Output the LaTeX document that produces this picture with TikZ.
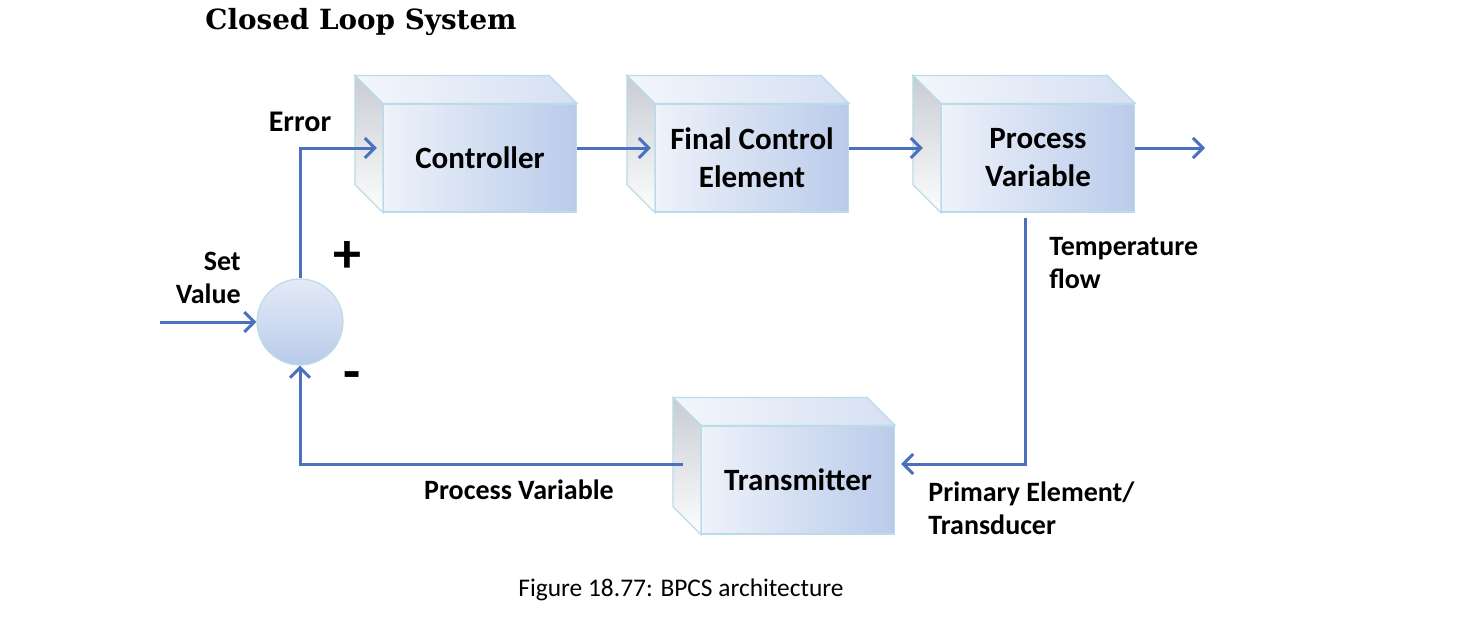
\documentclass[tikz,border=0pt]{standalone}
\usepackage{fontspec}
\setmainfont{Carlito}
\newfontfamily\titlefont{DejaVu Serif}
\usetikzlibrary{arrows.meta}
\definecolor{flowBlue}{RGB}{74, 112, 190}
\definecolor{edgeCyan}{RGB}{185, 220, 232}
\definecolor{faceLight}{RGB}{238, 242, 250}
\definecolor{faceDark}{RGB}{186, 203, 234}
\definecolor{sideGrey}{RGB}{200, 204, 211}

\begin{document}
\begin{tikzpicture} [
        x=0.5pt, y=-0.5pt,
        block/.style={draw=edgeCyan, line width=0.6pt, left color=faceLight, right color=faceDark, minimum width=96.5pt, minimum height=54pt, inner sep=0pt, align=center, font=\fontsize{15.5}{19}\selectfont\bfseries},
        junction/.style={circle, draw=edgeCyan, line width=0.6pt, top color=faceLight!80!faceDark, bottom color=faceDark, minimum size=43pt, inner sep=0pt},
        flow/.style={draw=flowBlue, line width=1.5pt, -{Straight Barb[length=5pt, width=10pt, line width=1.5pt]}},
        lbl/.style={inner sep=0pt, font=\fontsize{14}{16.5}\selectfont\bfseries},
        sign/.style={font=\fontsize{28}{28}\selectfont\bfseries}
    ]
        \useasboundingbox (0, 0) rectangle (1459, 616);

        \node [block] (ctrl) at (480, 158) {Controller};
        \node [block] (fce)  at (752, 158) {Final Control\\Element};
        \node [block] (pv)   at (1038, 158) {Process\\Variable};
        \node [block] (tx)   at (798, 480) {Transmitter};
        \node [junction] (sum) at (300, 322) {};

        % top and left faces of the boxes
        \foreach \b in {ctrl, fce, pv, tx} {
            \draw[edgeCyan, line width=0.6pt, left color=faceLight!70!white, right color=faceDark!60!white]
                (\b.north west) -- ([shift={(-14pt, 14pt)}]\b.north west)
                -- ([shift={(-14pt, 14pt)}]\b.north east) -- (\b.north east) -- cycle;
            \draw[edgeCyan, line width=0.6pt, top color=sideGrey, bottom color=white!96!sideGrey]
                (\b.north west) -- ([shift={(-14pt, 14pt)}]\b.north west)
                -- ([shift={(-14pt, 14pt)}]\b.south west) -- (\b.south west) -- cycle;
        }

        \coordinate (in)  at (160, 322);
        \coordinate (out) at (1205, 148);

        \draw[flow] (in) -- (sum.west);
        \draw[flow] (sum.north) |- ([xshift=-3pt, yshift=5pt]ctrl.west);
        \draw[flow] ([yshift=5pt]ctrl.east) -- ([xshift=-2pt, yshift=5pt]fce.west);
        \draw[flow] ([yshift=5pt]fce.east) -- ([xshift=-9pt, yshift=5pt]pv.west);
        \draw[flow] ([yshift=5pt]pv.east) -- (out);
        \draw[flow] ([xshift=-6.5pt, yshift=-2.5pt]pv.south) |- ([xshift=3pt, yshift=8pt]tx.east);
        \draw[flow] ([xshift=-9pt, yshift=8pt]tx.west) -| (sum.south);

        \node [lbl, font=\fontsize{15}{18}\selectfont\bfseries] (error) at (300, 122) {Error};
        \node [lbl, align=right, anchor=east] (setval) at (241, 278) {Set\\Value};
        \node [sign] (plus) at (347, 257) {+};
        \node [sign] (minus) at (352, 381) {-};
        \node [lbl, align=left, anchor=west] (temp) at (1049, 263) {Temperature\\flow};
        \node [lbl, align=left, anchor=west] (prim) at (928, 508) {Primary Element/\\Transducer};
        \node [lbl] (pvlabel) at (519, 490) {Process Variable};

        \node [font=\titlefont\fontsize{13.9}{14}\selectfont\bfseries, anchor=west, inner sep=0pt] (title) at (205, 22) {Closed Loop System};
        \node [font=\fontsize{12.7}{15}\selectfont] (caption) at (681, 590) {Figure 18.77: BPCS architecture};
    \end{tikzpicture}
\end{document}
